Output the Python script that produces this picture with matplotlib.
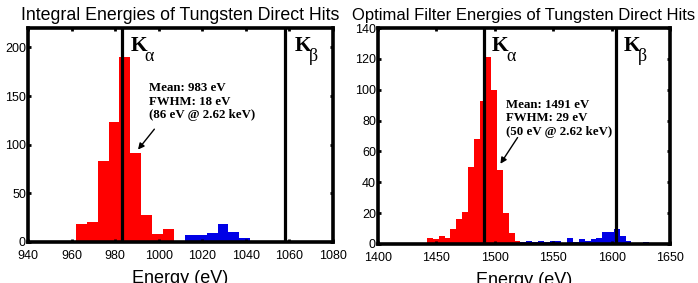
import matplotlib
matplotlib.use("Agg")
import matplotlib.pyplot as plt

plt.rcParams['font.family'] = ['Liberation Sans', 'DejaVu Sans']

# left panel: integral energies (5 eV bins, left edges)
int_red_edges = [962, 967, 972, 977, 982, 987, 992, 997, 1002]
int_red_counts = [18, 21, 83, 123, 190, 91, 28, 8, 13]
int_blue_edges = [1012, 1017, 1022, 1027, 1032, 1037]
int_blue_counts = [7, 7, 9, 19, 10, 4]
int_lines = [983, 1058]

# right panel: optimal filter energies (5 eV bins, left edges)
of_red_edges = [1442, 1447, 1452, 1457, 1462, 1467, 1472, 1477, 1482, 1487,
                1492, 1497, 1502, 1507, 1512, 1517]
of_red_counts = [4, 3, 5, 4, 10, 16, 21, 50, 68, 93, 121, 100, 48, 20, 7, 2]
of_blue_edges = [1522, 1527, 1532, 1537, 1542, 1547, 1552, 1557, 1562, 1567, 1572,
                 1577, 1582, 1587, 1592, 1597, 1602, 1607, 1612, 1617, 1622, 1627]
of_blue_counts = [1, 2, 1, 2, 1, 2, 2, 0, 4, 1, 3, 2, 3, 4, 8, 8, 10, 5, 2, 0, 0, 1]
of_lines = [1491, 1604]

bin_w = 5
red = '#ff0000'
blue = '#0000e6'
serif = ['Liberation Serif', 'DejaVu Serif']

fig = plt.figure(figsize=(6.98, 2.83), dpi=100)
ax1 = fig.add_axes([28/698, 41/283, 305/698, 214/283])
ax2 = fig.add_axes([378/698, 39/283, 292/698, 216/283])


def style(ax):
    for s in ax.spines.values():
        s.set_linewidth(2.6)
        s.set_color('black')
    ax.tick_params(direction='in', length=2.5, width=2, top=True, right=True,
                   labelsize=9)
    ax.tick_params(axis='x', pad=6)
    ax.tick_params(axis='y', pad=1.5)


def k_label(ax, x, y, sub):
    ax.text(x, y, 'K', fontsize=15.5, fontweight='bold', family=serif, va='baseline')
    ax.annotate(sub, xy=(x, y), xytext=(10.3, -7.5), textcoords='offset points',
                fontsize=13, family=serif, va='baseline')


def arrow(ax, head, tail):
    ax.annotate('', xy=head, xytext=tail,
                arrowprops=dict(arrowstyle='-|>', color='black', lw=1,
                                mutation_scale=9, shrinkA=0, shrinkB=0))


# left
ax1.bar(int_red_edges, int_red_counts, width=bin_w, align='edge', color=red, linewidth=0)
ax1.bar(int_blue_edges, int_blue_counts, width=bin_w, align='edge', color=blue, linewidth=0)
for x in int_lines:
    ax1.axvline(x, color='black', linewidth=2.3)
ax1.set_xlim(940, 1080)
ax1.set_ylim(0, 220)
ax1.set_xticks([940, 960, 980, 1000, 1020, 1040, 1060, 1080])
ax1.set_yticks([0, 50, 100, 150, 200])
style(ax1)
ax1.set_title('Integral Energies of Tungsten Direct Hits', fontsize=12.8, pad=6)
ax1.set_xlabel('Energy (eV)', fontsize=13, labelpad=5.5)
k_label(ax1, 987, 196.5, 'α')
k_label(ax1, 1062.5, 196.5, 'β')
ax1.text(995.5, 164, 'Mean: 983 eV\nFWHM: 18 eV\n(86 eV @ 2.62 keV)',
         fontsize=9.3, fontweight='bold', family=serif, va='top', linespacing=1.15)
arrow(ax1, (990.5, 95), (998, 116))

# right
ax2.bar(of_red_edges, of_red_counts, width=bin_w, align='edge', color=red, linewidth=0)
ax2.bar(of_blue_edges, of_blue_counts, width=bin_w, align='edge', color=blue, linewidth=0)
for x in of_lines:
    ax2.axvline(x, color='black', linewidth=2.3)
ax2.set_xlim(1400, 1650)
ax2.set_ylim(0, 140)
ax2.set_xticks([1400, 1450, 1500, 1550, 1600, 1650])
ax2.set_yticks([0, 20, 40, 60, 80, 100, 120, 140])
style(ax2)
ax2.set_title('Optimal Filter Energies of Tungsten Direct Hits', fontsize=12, pad=6)
ax2.set_xlabel('Energy (eV)', fontsize=13, labelpad=5.5)
k_label(ax2, 1497.4, 125.3, 'α')
k_label(ax2, 1610.2, 125.3, 'β')
ax2.text(1509.5, 94, 'Mean: 1491 eV\nFWHM: 29 eV\n(50 eV @ 2.62 keV)',
         fontsize=9.3, fontweight='bold', family=serif, va='top', linespacing=1.15)
arrow(ax2, (1504.8, 52), (1519.5, 69))

fig.savefig('out.png', dpi=100)
